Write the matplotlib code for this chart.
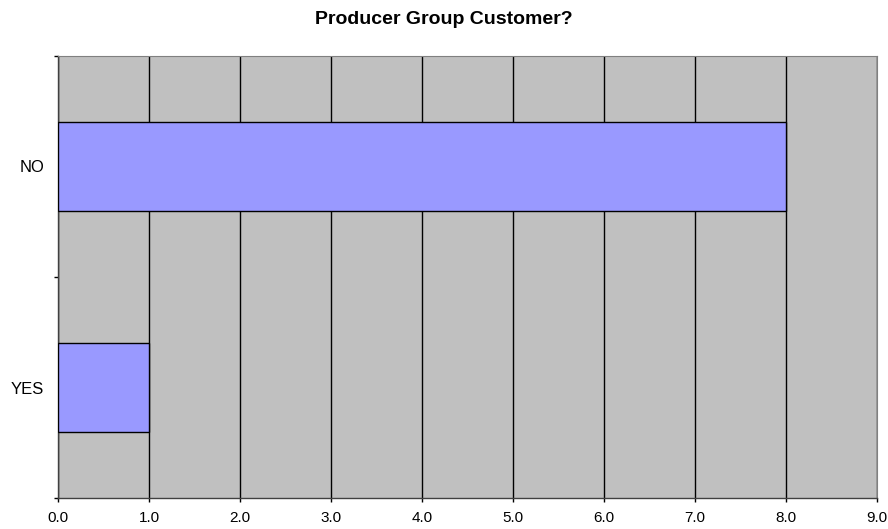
import matplotlib
matplotlib.use("Agg")
import matplotlib.pyplot as plt
from matplotlib.ticker import FixedLocator, FormatStrFormatter

plt.rcParams['font.family'] = ['Liberation Sans', 'DejaVu Sans']

# data
categories = ["YES", "NO"]
counts = [1, 8]
title = "Producer Group Customer?"

W, H = 888, 529
fig = plt.figure(figsize=(W / 100, H / 100), dpi=100)
ax = fig.add_axes([58 / W, (H - 498) / H, (877 - 58) / W, (498 - 56) / H])
ax.set_facecolor("#C0C0C0")

ypos = list(range(len(categories)))
ax.barh(ypos, counts, height=0.4, color="#9999FF", edgecolor="black", linewidth=1, zorder=3)

ax.set_xlim(0, 9)
ax.set_ylim(-0.5, len(categories) - 0.5)
ax.xaxis.set_major_locator(FixedLocator(range(0, 10)))
ax.xaxis.set_major_formatter(FormatStrFormatter("%.1f"))
ax.grid(axis="x", color="black", linewidth=1, zorder=1)
ax.set_axisbelow(True)

ax.set_yticks(ypos)
ax.set_yticklabels(categories)
ax.set_yticks([i - 0.5 for i in range(len(categories) + 1)], minor=True)
ax.tick_params(axis="y", which="major", length=0, pad=10, labelsize=12)
ax.tick_params(axis="y", which="minor", length=3, width=1, color="black")
ax.tick_params(axis="x", which="major", length=3, width=1, color="black", pad=6.5, labelsize=11)

for s in ("left", "bottom"):
    ax.spines[s].set_color("#404040")
    ax.spines[s].set_linewidth(1)
for s in ("top", "right"):
    ax.spines[s].set_color("#808080")
    ax.spines[s].set_linewidth(0.8)

fig.text(0.5, 1 - 19 / H, title, ha="center", va="center", fontsize=14, fontweight="bold")

fig.savefig("out.png", dpi=100)
